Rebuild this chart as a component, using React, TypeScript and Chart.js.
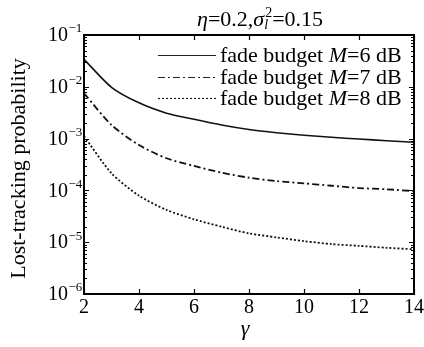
import React, { useEffect, useRef } from "react";
import { Chart, registerables } from "chart.js";

Chart.register(...registerables);

const gammaValues = [2, 3, 4, 5, 6, 7, 8, 9, 10, 11, 12, 13, 14];
const lostM6 = [0.034, 0.0098, 0.0049, 0.0031, 0.00236, 0.00183, 0.0015, 0.0013, 0.00116, 0.00106, 0.00098, 0.00091, 0.00085];
const lostM7 = [0.0075, 0.00183, 0.00075, 0.000417, 0.000296, 0.00022, 0.000176, 0.000151, 0.000137, 0.000123, 0.000111, 0.000105, 0.000097];
const lostM8 = [0.00112, 0.000214, 0.000079, 0.000042, 0.0000277, 0.0000199, 0.0000148, 0.0000124, 0.0000105, 0.0000092, 0.0000085, 0.0000078, 0.0000073];
const seriesLabels = ["6", "7", "8"];
const xTickValues = [2, 4, 6, 8, 10, 12, 14];
const yExponents = [-1, -2, -3, -4, -5, -6];

const SERIF = '"Liberation Serif", "Times New Roman", serif';
const dashes: number[][] = [[], [7, 3, 2, 3], [2, 2]];

const overlay = {
  id: "overlay",
  afterDraw(chart: any) {
    const ctx = chart.ctx as CanvasRenderingContext2D;
    const { left, right, top, bottom } = chart.chartArea;
    const xs = chart.scales.x;
    const ys = chart.scales.y;
    ctx.save();
    ctx.strokeStyle = "#000";
    ctx.fillStyle = "#000";
    // ticks
    ctx.lineWidth = 1.2;
    ctx.beginPath();
    for (const v of xTickValues) {
      const px = Math.round(xs.getPixelForValue(v)) + 0.5;
      ctx.moveTo(px, bottom);
      ctx.lineTo(px, bottom - 5);
      ctx.moveTo(px, top);
      ctx.lineTo(px, top + 5);
    }
    for (const e of yExponents) {
      for (let m = 1; m <= 9; m++) {
        const val = m * Math.pow(10, e - 1);
        if (val < 1e-6 * 0.999 || val > 0.1 * 1.001) continue;
        const py = Math.round(ys.getPixelForValue(val)) + 0.5;
        const len = m === 1 ? 5 : 3;
        ctx.moveTo(left, py);
        ctx.lineTo(left + len, py);
        ctx.moveTo(right, py);
        ctx.lineTo(right - len, py);
      }
    }
    {
      const py = Math.round(ys.getPixelForValue(0.1)) + 0.5;
      ctx.moveTo(left, py);
      ctx.lineTo(left + 5, py);
      ctx.moveTo(right, py);
      ctx.lineTo(right - 5, py);
    }
    ctx.stroke();
    // frame
    ctx.lineWidth = 2;
    ctx.strokeRect(left, top, right - left, bottom - top);

    // x tick labels
    ctx.font = `20px ${SERIF}`;
    ctx.textAlign = "center";
    ctx.textBaseline = "middle";
    for (const v of xTickValues) {
      ctx.fillText(String(v), xs.getPixelForValue(v), bottom + 14);
    }
    // y tick labels
    for (const e of yExponents) {
      const py = ys.getPixelForValue(Math.pow(10, e));
      ctx.font = `20px ${SERIF}`;
      ctx.textAlign = "right";
      ctx.textBaseline = "middle";
      ctx.fillText("10", 68, py + 1);
      ctx.font = `13px ${SERIF}`;
      ctx.textAlign = "left";
      ctx.fillText("\u2212" + String(-e), 68.5, py - 6);
    }
    // x title
    ctx.font = `italic 22px ${SERIF}`;
    ctx.textAlign = "center";
    ctx.textBaseline = "middle";
    ctx.fillText("\u03b3", (left + right) / 2 - 4, 329);
    // y title
    ctx.save();
    ctx.translate(19, (top + bottom) / 2 + 4);
    ctx.rotate(-Math.PI / 2);
    ctx.font = `22px ${SERIF}`;
    ctx.fillText("Lost-tracking probability", 0, 0);
    ctx.restore();

    // title
    const parts: [string, string][] = [
      ["\u03b7", `italic 22px ${SERIF}`],
      ["=0.2,", `22px ${SERIF}`],
      ["\u03c3", `italic 22px ${SERIF}`],
    ];
    ctx.textAlign = "left";
    ctx.textBaseline = "alphabetic";
    const base = 26;
    let w = 0;
    for (const p of parts) { ctx.font = p[1]; w += ctx.measureText(p[0]).width; }
    ctx.font = `italic 14px ${SERIF}`;
    const subW = ctx.measureText("l").width;
    ctx.font = `14px ${SERIF}`;
    const supW = ctx.measureText("2").width;
    const scriptW = Math.max(subW, supW) + 1;
    ctx.font = `22px ${SERIF}`;
    const tailW = ctx.measureText("=0.15").width;
    const total = w + scriptW + tailW;
    let x = 260 - total / 2;
    for (const p of parts) { ctx.font = p[1]; ctx.fillText(p[0], x, base); x += ctx.measureText(p[0]).width; }
    ctx.font = `italic 14px ${SERIF}`;
    ctx.fillText("l", x, base + 3);
    ctx.font = `14px ${SERIF}`;
    ctx.fillText("2", x + 1, base - 9);
    x += scriptW;
    ctx.font = `22px ${SERIF}`;
    ctx.fillText("=0.15", x, base);

    // legend
    const rows = [55, 77, 98];
    ctx.lineWidth = 1.2;
    ctx.strokeStyle = "#222";
    for (let i = 0; i < 3; i++) {
      const y = rows[i];
      ctx.setLineDash(dashes[i]);
      ctx.beginPath();
      ctx.moveTo(158, y + 0.5);
      ctx.lineTo(216, y + 0.5);
      ctx.stroke();
      ctx.setLineDash([]);
      let tx = 220;
      ctx.textBaseline = "middle";
      ctx.font = `22px ${SERIF}`;
      ctx.fillText("fade budget ", tx, y + 1);
      tx += ctx.measureText("fade budget ").width;
      ctx.font = `italic 22px ${SERIF}`;
      ctx.fillText("M", tx, y + 1);
      tx += ctx.measureText("M").width;
      ctx.font = `22px ${SERIF}`;
      ctx.fillText("=" + seriesLabels[i] + " dB", tx, y + 1);
    }
    ctx.restore();
  },
};

export default function App() {
  const ref = useRef<HTMLCanvasElement | null>(null);
  useEffect(() => {
    if (!ref.current) return;
    const series = [lostM6, lostM7, lostM8];
    const chart = new Chart(ref.current, {
      type: "line",
      data: {
        datasets: series.map((s, i) => ({
          label: `fade budget M=${seriesLabels[i]} dB`,
          data: gammaValues.map((g, j) => ({ x: g, y: s[j] })),
          borderColor: "#111",
          borderWidth: i === 0 ? 1.6 : 1.8,
          borderDash: dashes[i],
          pointRadius: 0,
          tension: 0.25,
          fill: false,
        })),
      },
      options: {
        animation: false,
        responsive: false,
        maintainAspectRatio: false,
        layout: { padding: { top: 35, right: 10, left: 0, bottom: 0 } },
        plugins: { legend: { display: false }, title: { display: false }, tooltip: { enabled: false } },
        scales: {
          x: {
            type: "linear",
            min: 2,
            max: 14,
            grid: { display: false },
            border: { display: false },
            ticks: { display: false },
            afterFit: (s: any) => { s.height = 53; },
          },
          y: {
            type: "logarithmic",
            min: 1e-6,
            max: 1e-1,
            grid: { display: false },
            border: { display: false },
            ticks: { display: false },
            afterFit: (s: any) => { s.width = 84; },
          },
        },
      },
      plugins: [overlay],
    });
    return () => chart.destroy();
  }, []);
  return (
    <div style={{ position: "fixed", left: 0, top: 0, width: 424, height: 347, background: "#fff" }}>
      <canvas ref={ref} width={424} height={347} style={{ width: 424, height: 347, display: "block" }} />
    </div>
  );
}
